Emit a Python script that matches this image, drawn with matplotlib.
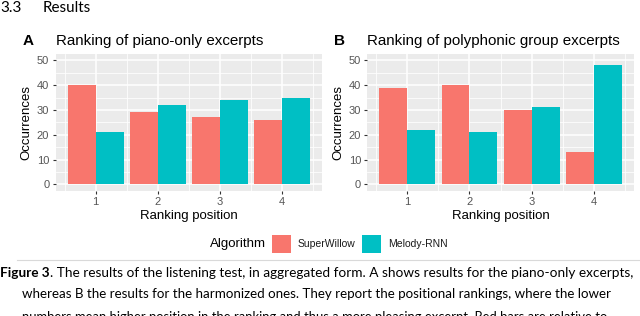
import matplotlib
matplotlib.use('Agg')
import matplotlib.pyplot as plt
import numpy as np

positions = [1, 2, 3, 4]
algorithms = ['SuperWillow', 'Melody-RNN']
colors = ['#F8766D', '#00BFC4']

piano_superwillow = [40, 29, 27, 26]
piano_melodyrnn = [21, 32, 34, 35]
poly_superwillow = [39, 40, 30, 13]
poly_melodyrnn = [22, 21, 31, 48]

caption_lines = [
    'The results of the listening test, in aggregated form. A shows results for the piano-only excerpts,',
    'whereas B the results for the harmonized ones. They report the positional rankings, where the lower',
    'numbers mean higher position in the ranking and thus a more pleasing excerpt. Red bars are relative to',
]

W, H = 640, 316
fig = plt.figure(figsize=(W / 100, H / 100), dpi=100)
fig.patch.set_facecolor('white')

chart_font = 'Liberation Sans'
text_font = 'Lato'


def px(x, y):
    # pixel coords (top-left origin) -> figure fraction
    return x / W, 1 - y / H


def draw_panel(left, values_a, values_b, letter, title, title_size):
    l, b = left / W, 1 - 190.5 / H
    ax = fig.add_axes([l, b, 266.5 / W, 136.3 / H])
    ax.set_facecolor('#EBEBEB')
    x = np.array(positions)
    w = 0.45
    ax.bar(x - w / 2, values_a, width=w, color=colors[0], zorder=3)
    ax.bar(x + w / 2, values_b, width=w, color=colors[1], zorder=3)
    ax.set_xlim(0.355, 4.645)
    ax.set_ylim(-2.5, 52.5)
    ax.set_xticks(positions)
    ax.set_yticks([0, 10, 20, 30, 40, 50])
    ax.set_xticks([0.5, 1.5, 2.5, 3.5, 4.5], minor=True)
    ax.set_yticks([5, 15, 25, 35, 45], minor=True)
    ax.grid(which='major', color='white', linewidth=1.1, zorder=1)
    ax.grid(which='minor', color='white', linewidth=0.55, zorder=1)
    ax.set_axisbelow(True)
    for s in ax.spines.values():
        s.set_visible(False)
    ax.tick_params(which='major', length=2.5, width=0.8, color='#333333',
                   labelcolor='#555555', labelsize=8, pad=2)
    ax.tick_params(which='minor', length=0)
    for t in ax.get_xticklabels() + ax.get_yticklabels():
        t.set_fontfamily(chart_font)
    ax.set_xlabel('Ranking position', fontsize=9.5, family=chart_font, labelpad=2)
    ax.set_ylabel('Occurrences', fontsize=9.5, family=chart_font, labelpad=3)
    lx, ly = px(left - 33, 41)
    fig.text(lx, ly, letter, fontsize=11, fontweight='bold', family=chart_font,
             va='center', ha='left')
    tx, ty = px(left, 41)
    fig.text(tx, ty, title, fontsize=title_size, family=chart_font, va='center', ha='left')
    return ax


draw_panel(55.5, piano_superwillow, piano_melodyrnn, 'A', 'Ranking of piano-only excerpts', 10.9)
draw_panel(367.3, poly_superwillow, poly_melodyrnn, 'B', 'Ranking of polyphonic group excerpts', 10.9)

# header
hx, hy = px(0, 8)
fig.text(hx, hy, '3.3', fontsize=11, family=text_font, va='center', ha='left')
hx, hy = px(43, 8)
fig.text(hx, hy, 'Results', fontsize=11, family=text_font, va='center', ha='left')

# legend
lx, ly = px(210, 244)
fig.text(lx, ly, 'Algorithm', fontsize=9.5, family=chart_font, va='center', ha='left')
for x0, name, c in [(272, algorithms[0], colors[0]), (362, algorithms[1], colors[1])]:
    bx, by = px(x0, 253)
    fig.patches.append(plt.Rectangle((bx, by), 19 / W, 18 / H, transform=fig.transFigure,
                                     facecolor=c, edgecolor='none'))
    tx, ty = px(x0 + 26, 244)
    fig.text(tx, ty, name, fontsize=7.5, family=chart_font, va='center', ha='left',
             color='#1A1A1A')

# separator line
fig.add_artist(plt.Line2D([17 / W, 1], [1 - 260 / H, 1 - 260 / H], transform=fig.transFigure,
                          color='#D9D9D9', linewidth=0.8))

# caption (last line is cut by the page edge, as in the source)
cap_size = 9.8
fig.canvas.draw()
renderer = fig.canvas.get_renderer()
cx, cy = px(0, 277)
bold = fig.text(cx, cy, 'Figure 3', fontsize=cap_size, family=text_font, fontweight='bold',
                va='baseline', ha='left')
bb = bold.get_window_extent(renderer)
fig.text(bb.x1 / W, cy, '. ' + caption_lines[0], fontsize=cap_size, family=text_font,
         va='baseline', ha='left')
cx, cy = px(22, 298)
fig.text(cx, cy, caption_lines[1], fontsize=9.6, family=text_font, va='baseline', ha='left')
cx, cy = px(22, 321)
fig.text(cx, cy, caption_lines[2], fontsize=9.4, family=text_font, va='baseline', ha='left')

fig.savefig('out.png', dpi=100)
